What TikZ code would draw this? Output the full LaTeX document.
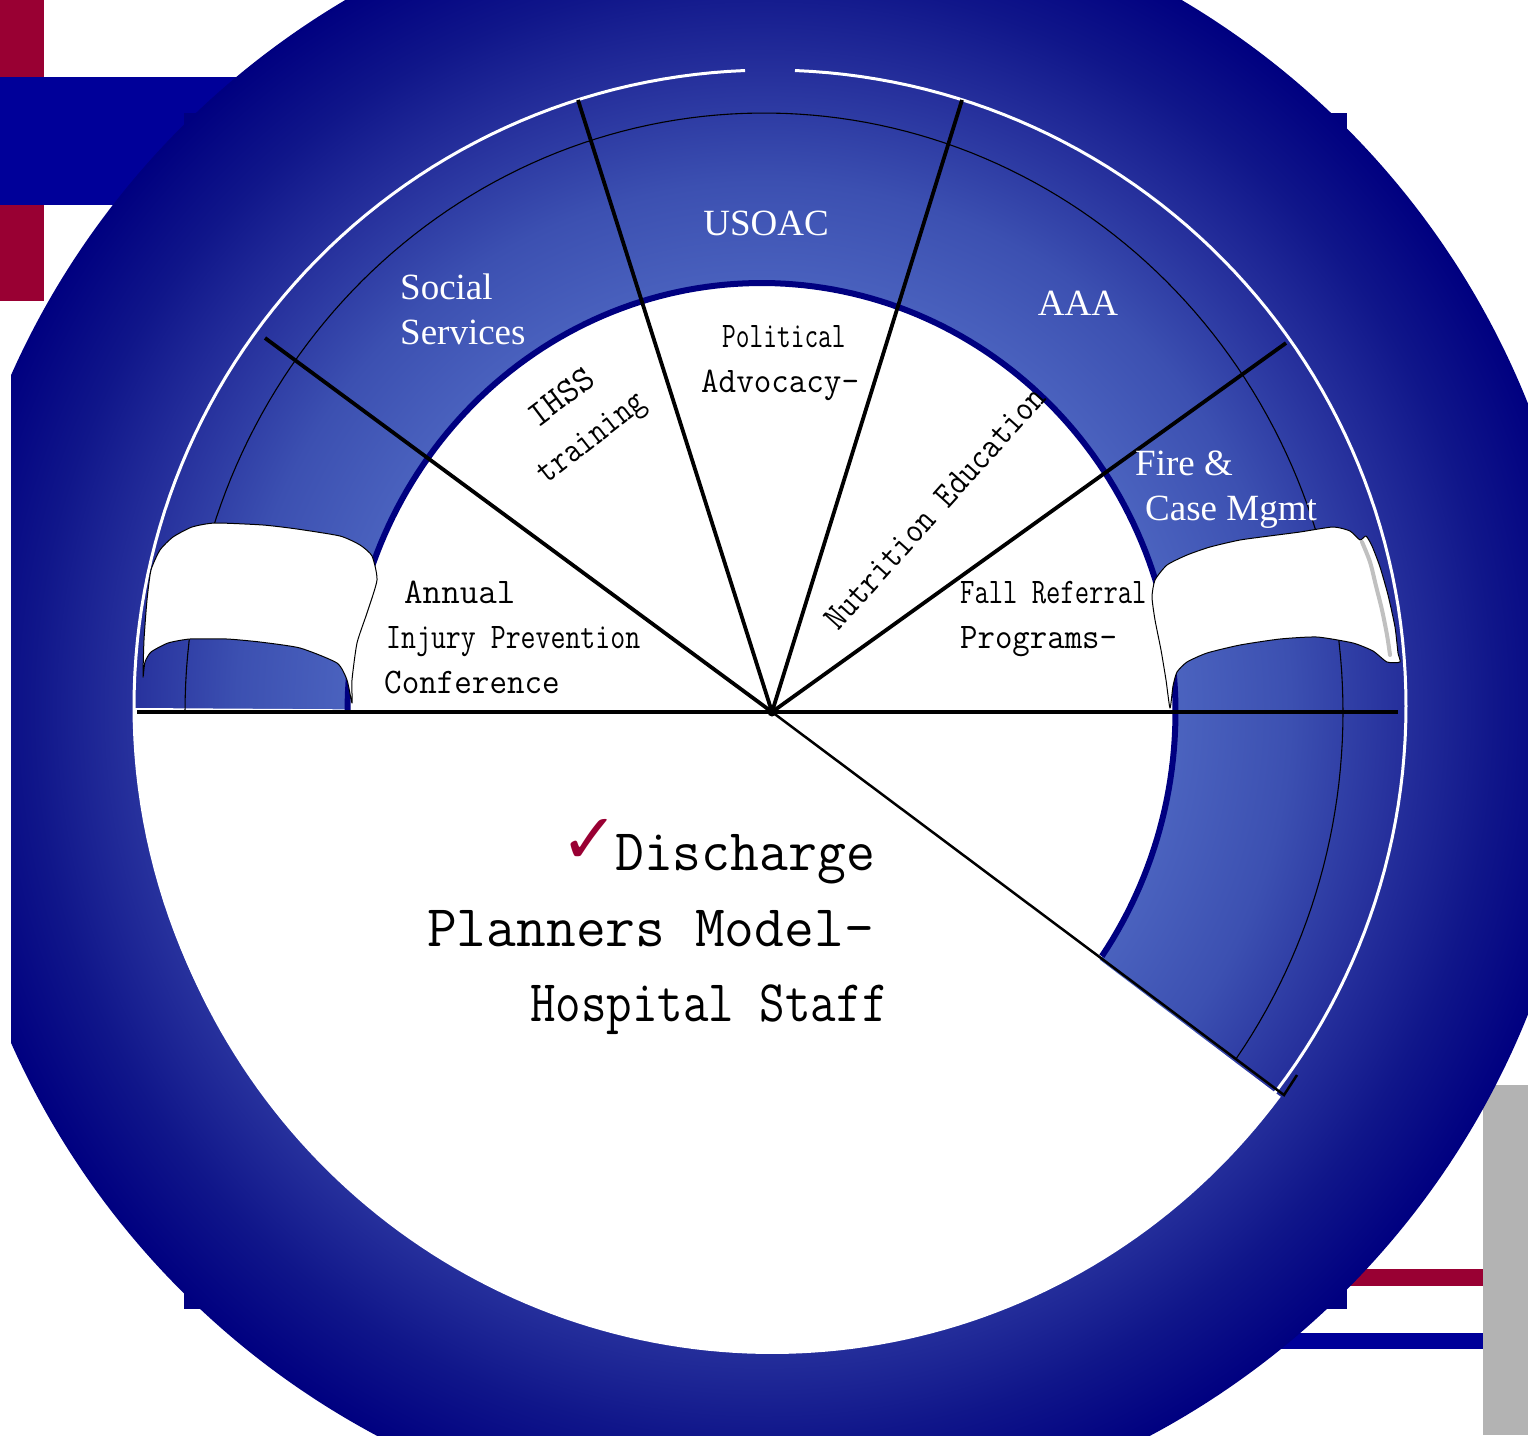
\documentclass[tikz,border=0pt]{standalone}
\usepackage{fontspec}
\usepackage{graphicx}
\setmainfont{Liberation Serif}
\newfontfamily\symf{DejaVu Sans}
\newcommand{\monofnt}{\ttfamily\addfontfeature{FakeBold=2}}
\definecolor{navy}{HTML}{000080}
\definecolor{barblue}{HTML}{000099}
\definecolor{crimson}{HTML}{990033}
\definecolor{bargray}{HTML}{B3B3B3}
\definecolor{hilite}{HTML}{C0C0C0}
\definecolor{sA}{HTML}{5A72CC}
\definecolor{sB}{HTML}{4B63BF}
\definecolor{sC}{HTML}{3C50B1}
\definecolor{sD}{HTML}{26309C}
\definecolor{sE}{HTML}{10168A}
\pgfdeclareradialshading{discshade}{\pgfpoint{0bp}{0bp}}{%
  color(0bp)=(sA); color(12.5bp)=(sB); color(16bp)=(sC); color(19.3bp)=(sD); color(22.2bp)=(sE); color(25bp)=(navy); color(50bp)=(navy)}
\tikzset{
  whitelabel/.style={text=white, font=\fontsize{37}{40}\selectfont, inner sep=0pt},
  blacklabel/.style={text=black, font=\monofnt\fontsize{36}{50}\selectfont, inner sep=0pt},
  biglabel/.style={text=black, font=\monofnt\fontsize{59}{60}\selectfont, inner sep=0pt},
  spoke/.style={line width=3.8pt, black},
  thinspoke/.style={line width=2.5pt, black},
  thinarc/.style={line width=1.1pt, black},
  ribbon/.style={fill=white, draw=black, line width=1pt, line join=round},
}
\begin{document}
\begin{tikzpicture}[x=1pt,y=-1pt]
\useasboundingbox (0,0) rectangle (1528,1435);
% corner bars
\fill[crimson] (0,0) rectangle (44,77);
\fill[crimson] (0,205) rectangle (44,301);
\fill[barblue] (0,77) rectangle (400,205);
\fill[navy] (184,113) rectangle (1347,1309);
\fill[crimson] (1300,1269) rectangle (1483,1286);
\fill[barblue] (1250,1333) rectangle (1483,1349);
\fill[bargray] (1483,1085) rectangle (1528,1435);
% big disc
\begin{scope}
  \clip (11,-10) rectangle (1600,1500);
  \shade[shading=discshade] (763.5,709) circle[radius=823];
\end{scope}
\coordinate (hub) at (772,712);
% lower white sector
\fill[white] (hub) -- plot[domain=-37:-180, samples=120] ({772+637*cos(\x)}, {708-646*sin(\x)}) -- cycle;
% white outline circle
\draw[white, line width=3pt] plot[domain=92.25:447.75, samples=240] ({770+636*cos(\x)}, {706-636*sin(\x)});
% inner white area
\fill[white] (761.5,712) ellipse [x radius=414, y radius=429];
\draw[navy, line width=6pt] plot[domain=-34.7:180, samples=160] ({761.5+414*cos(\x)},{712-429*sin(\x)});
% thin arc in band
\draw[thinarc] plot[domain=-35.3:180, samples=160] ({764+579*cos(\x)},{712-599*sin(\x)});
% ribbons
\draw[ribbon] plot[smooth cycle, tension=0.35] coordinates {
 (143,677) (144,640) (147,600) (151,570) (160,550) (173,537) (192,527) (215,523) (263,525) (297,529) (340,536) (360,545) (372,556) (377,580) (367,613) (357,643) (352,680) (352,703)
 (347,680) (337,663) (300,648) (260,642) (227,639) (190,639) (168,643) (151,652) (145,662)};
\draw[ribbon] plot[smooth cycle, tension=0.35] coordinates {
 (1170,708) (1166,680) (1161,650) (1155,620) (1152,597) (1155,580) (1167,565) (1187,555) (1210,547) (1240,540) (1277,535) (1300,532) (1333,527) (1350,531) (1360,540) (1366,536) (1372,546) (1380,567) (1388,595) (1395,627) (1398,653) (1400,662)
 (1387,662) (1373,651) (1353,643) (1317,637) (1280,639) (1240,645) (1207,653) (1187,662) (1177,672) (1173,686)};
\draw[hilite, line width=4pt, line cap=round] plot[smooth] coordinates {(1362,542) (1370,562) (1376,586) (1382,610) (1387,635) (1390,655)};
% spokes
\coordinate (s1) at (265,338);
\coordinate (s2) at (578,100);
\coordinate (s3) at (962,100);
\coordinate (s4) at (1286,343);
\coordinate (s5) at (1284,1095);
\coordinate (s5b) at (1297,1075);
\coordinate (hl) at (137,712);
\coordinate (hr) at (1398,712);
\draw[spoke] (hl) -- (hr);
\draw[spoke] (hub) -- (s1);
\draw[spoke] (hub) -- (s2);
\draw[spoke] (hub) -- (s3);
\draw[spoke] (hub) -- (s4);
\draw[thinspoke] (hub) -- (s5) -- (s5b);
\node[circle, fill=black, minimum size=9pt, inner sep=0pt] (hubdot) at (hub) {};
% white labels
\node[whitelabel, anchor=base] (usoac) at (766,235) {USOAC};
\node[whitelabel, anchor=base west] (soc1) at (400,299) {Social};
\node[whitelabel, anchor=base west] (soc2) at (400,344) {Services};
\node[whitelabel, anchor=base] (aaa) at (1078,315) {AAA};
\node[whitelabel, anchor=base west] (fire1) at (1135,475) {Fire \&};
\node[whitelabel, anchor=base west] (fire2) at (1145,520) {Case Mgmt};
% black labels
\node[blacklabel, anchor=base west] (ann1) at (404,603) {Annual};
\node[blacklabel, anchor=base west] (ann2) at (386,648) {\scalebox{0.806}[1]{Injury Prevention}};
\node[blacklabel, anchor=base west] (ann3) at (384,693) {\scalebox{0.947}[1]{Conference}};
\node[blacklabel, anchor=base west] (pol1) at (722,347) {\scalebox{0.74}[1]{Political}};
\node[blacklabel, anchor=base west] (pol2) at (701,392) {\scalebox{0.946}[1]{Advocacy-}};
\node[blacklabel, anchor=base west] (fall1) at (960,603) {\scalebox{0.773}[1]{Fall Referral}};
\node[blacklabel, anchor=base west] (fall2) at (960,648) {\scalebox{0.94}[1]{Programs-}};
\node[blacklabel, rotate=37] (ihss) at (561,397) {IHSS};
\node[blacklabel, rotate=38] (train) at (593,440) {\scalebox{0.86}[1]{training}};
\node[blacklabel, rotate=48] (nutr) at (935,508) {\scalebox{0.89}[1]{Nutrition Education}};
% discharge text
\node[font=\symf\fontsize{70}{70}\selectfont, text=crimson, inner sep=0pt] (check) at (590,841) {✓};
\node[biglabel, anchor=base west] (dis1) at (615,870) {\scalebox{0.95}[1]{Discharge}};
\node[biglabel, anchor=base west] (dis2) at (427,946) {\scalebox{0.98}[1]{Planners Model-}};
\node[biglabel, anchor=base west] (dis3) at (530,1021) {\scalebox{0.84}[1]{Hospital Staff}};
\end{tikzpicture}
\end{document}
